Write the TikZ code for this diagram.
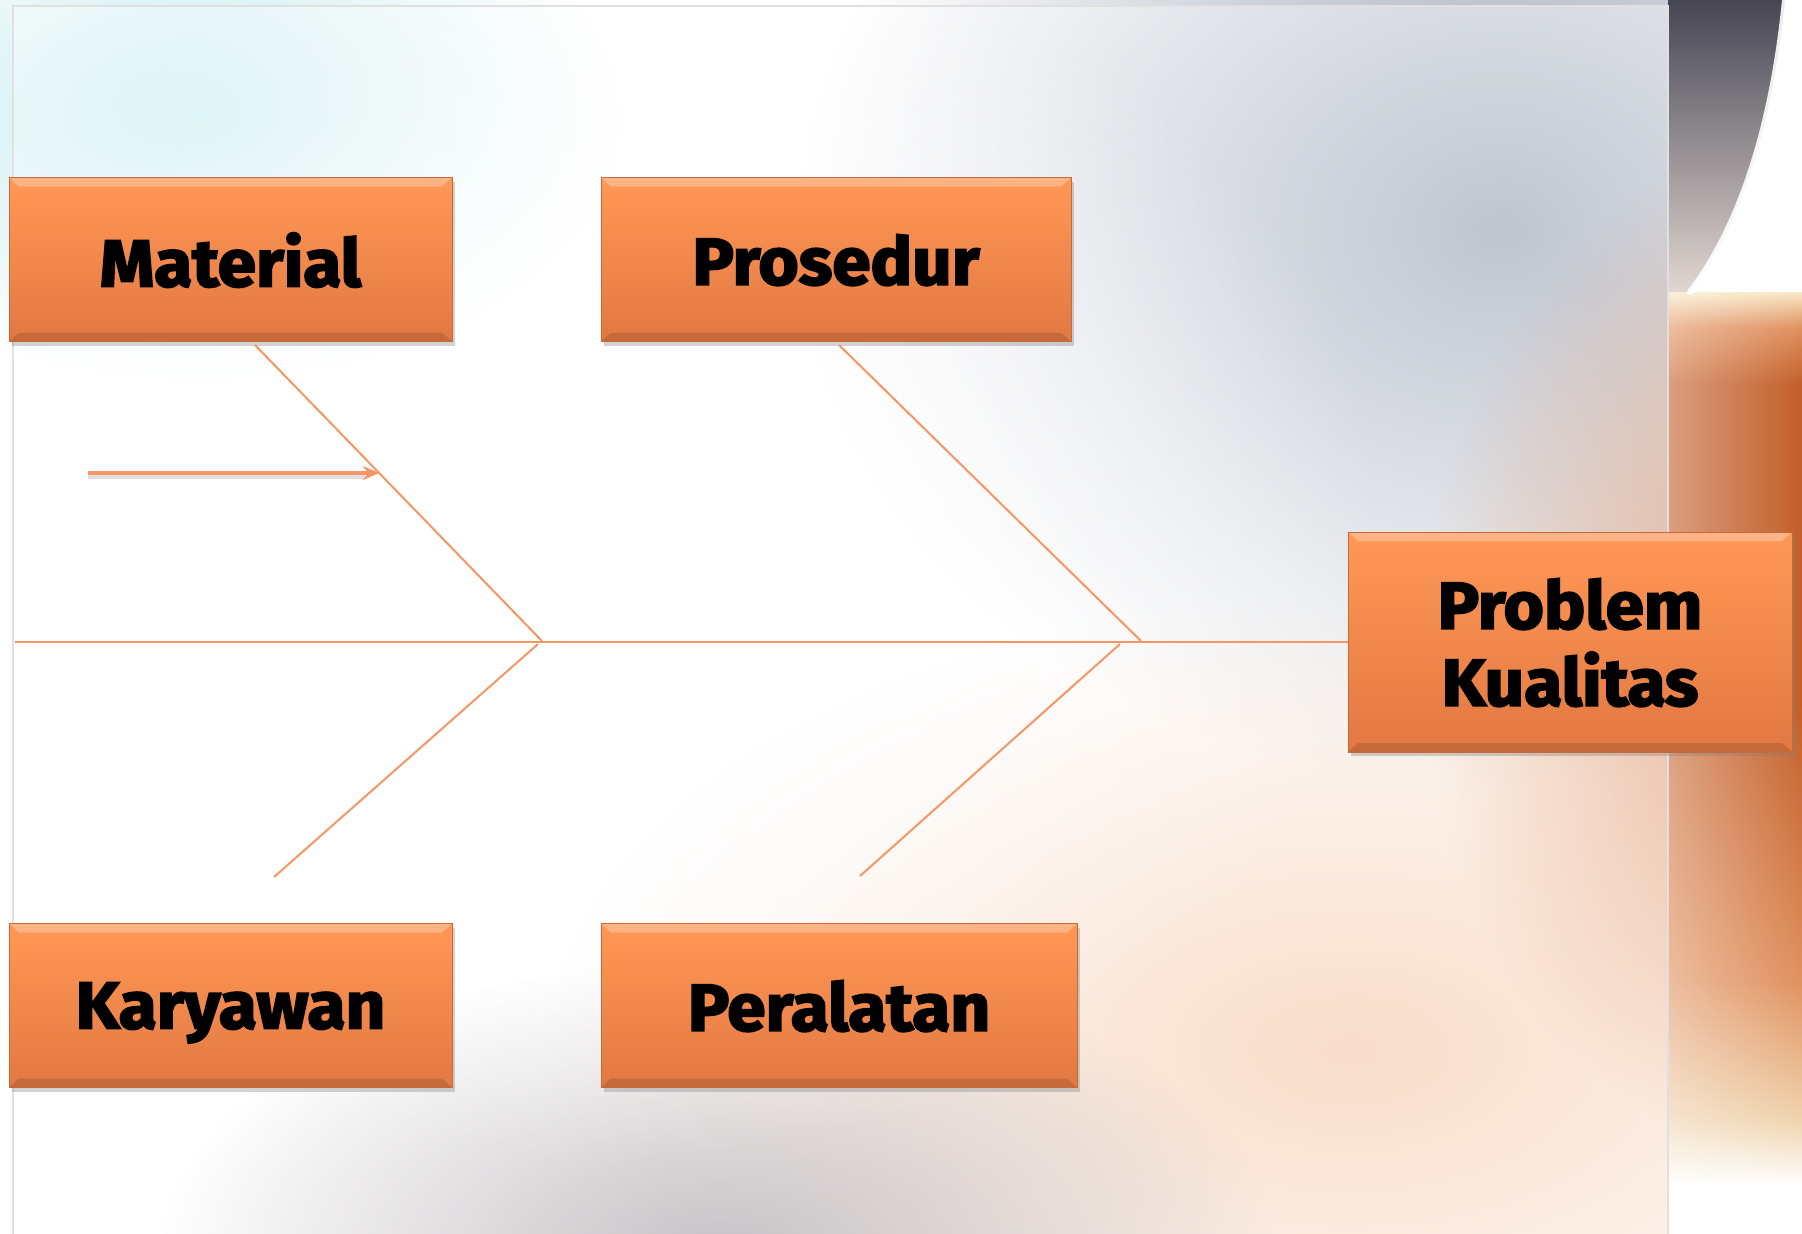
\documentclass[tikz,border=0pt]{standalone}
\usepackage{fontspec}
\newfontfamily\heavy{Fira Sans}[BoldFeatures={FakeBold=3,FakeStretch=1.05}]
\usetikzlibrary{fadings,shadows,arrows.meta}
\tikzfading[name=softblob, inner color=transparent!0, outer color=transparent!100]
\tikzfading[name=leftfade, left color=transparent!60, right color=transparent!100]
\definecolor{boneC}{RGB}{247,150,100}
\definecolor{boxTop}{RGB}{255,152,86}
\definecolor{boxBot}{RGB}{226,120,66}
\definecolor{boxLine}{RGB}{200,105,55}
\definecolor{greyBlue}{RGB}{150,160,178}
\definecolor{darkTop}{RGB}{70,70,82}
\definecolor{darkLow}{RGB}{225,215,210}
\definecolor{beigeHi}{RGB}{250,238,205}
\definecolor{deepOr}{RGB}{210,105,45}
\definecolor{stripOr}{RGB}{195,95,42}
\definecolor{stripMid}{RGB}{224,145,95}
\definecolor{stripLow}{RGB}{240,212,175}
\definecolor{peach}{RGB}{245,200,168}
\definecolor{greyBr}{RGB}{160,152,158}
\definecolor{paleCy}{RGB}{195,235,238}
\pgfdeclareverticalshading{stripshade}{100bp}{color(0bp)=(white); color(25bp)=(white); color(27.6bp)=(white); color(31bp)=(stripLow); color(38.5bp)=(stripMid); color(53bp)=(stripOr); color(70bp)=(stripOr); color(73bp)=(stripMid); color(75bp)=(beigeHi); color(100bp)=(beigeHi)}
\tikzset{
  fishbox/.style={draw=boxLine, line width=1pt, top color=boxTop, bottom color=boxBot,
    inner sep=0pt, align=center, text depth=0pt,
    font=\heavy\bfseries\fontsize{66}{77}\selectfont,
    drop shadow={opacity=0.35, shadow xshift=3pt, shadow yshift=-4pt},
    path picture={
      \fill[white,opacity=0.28] (path picture bounding box.north west) -- (path picture bounding box.north east)
        -- ([xshift=-10pt,yshift=-9pt]path picture bounding box.north east)
        -- ([xshift=10pt,yshift=-9pt]path picture bounding box.north west) -- cycle;
      \fill[black,opacity=0.12] (path picture bounding box.south west) -- (path picture bounding box.south east)
        -- ([xshift=-10pt,yshift=9pt]path picture bounding box.south east)
        -- ([xshift=10pt,yshift=9pt]path picture bounding box.south west) -- cycle;
    }},
  bone/.style={draw=boneC, line width=2pt},
  causearrow/.style={draw=boneC, line width=3.5pt, -{Stealth[length=16pt,width=14pt]}}
}
\begin{document}
\begin{tikzpicture}[x=1pt,y=-1pt]
\useasboundingbox (0,0) rectangle (1802,1234);
% ---------- background ----------
\fill[white] (0,0) rectangle (1802,1234);
\fill[paleCy, path fading=softblob] (200,120) ellipse (420 and 260);
\fill[greyBlue, path fading=softblob] (1500,230) ellipse (700 and 560);
\fill[peach, path fading=softblob] (1350,1050) ellipse (800 and 450);
\fill[deepOr, path fading=softblob] (1840,650) ellipse (420 and 520);
\fill[greyBr, path fading=softblob] (720,1260) ellipse (560 and 300);
\fill[white, path fading=softblob] (620,540) ellipse (760 and 620);
% right strip (outside the panel)
\shade[shading=stripshade] (1668,290) rectangle (1802,1234);
\fill[white, path fading=leftfade] (1668,290) rectangle (1802,1234);
\fill[white] (1668,0) rectangle (1802,292);
\shade[top color=darkTop, bottom color=darkLow] (1668,0) -- (1785,0) .. controls (1770,150) and (1730,240) .. (1690,292) -- (1668,292) -- cycle;
\draw[white, line width=6pt, opacity=0.9, line cap=round] (1785,0) .. controls (1770,150) and (1730,240) .. (1690,292);
% panel
\fill[white, opacity=0.4] (13,6) rectangle (1668,1234);
\draw[black!12, line width=1.5pt] (13,1234) -- (13,6) -- (1668,6) -- (1668,1234);
% ---------- boxes ----------
\node[fishbox, minimum width=443pt, minimum height=164pt] (mat) at (230.5,259.5) {Material};
\node[fishbox, minimum width=470pt, minimum height=164pt] (pro) at (836,259.5) {Prosedur};
\node[fishbox, minimum width=444pt, minimum height=220pt] (prob) at (1570,642) {Problem\\Kualitas};
\node[fishbox, minimum width=443pt, minimum height=164pt] (kar) at (230.5,1005.5) {Karyawan};
\node[fishbox, minimum width=476pt, minimum height=164pt] (per) at (839,1005.5) {Peralatan};
% ---------- bones ----------
\coordinate (spL) at (15,642);
\coordinate (mT) at (255,345);  \coordinate (mH) at (542,641);
\coordinate (pT) at (839,345);  \coordinate (pH) at (1141,641);
\coordinate (kT) at (274,877);  \coordinate (kH) at (538,644);
\coordinate (eT) at (860,876);  \coordinate (eH) at (1120,644);
\coordinate (aS) at (88,473);   \coordinate (aE) at (379,473);
\draw[bone] (spL) -- (prob.west);
\draw[bone] (mT) -- (mH);
\draw[bone] (pT) -- (pH);
\draw[bone] (kT) -- (kH);
\draw[bone] (eT) -- (eH);
\draw[black, opacity=0.12, line width=3.5pt] ([yshift=-4pt]aS) -- ([yshift=-4pt,xshift=-14pt]aE);
\draw[causearrow] (aS) -- (aE);
\end{tikzpicture}
\end{document}
